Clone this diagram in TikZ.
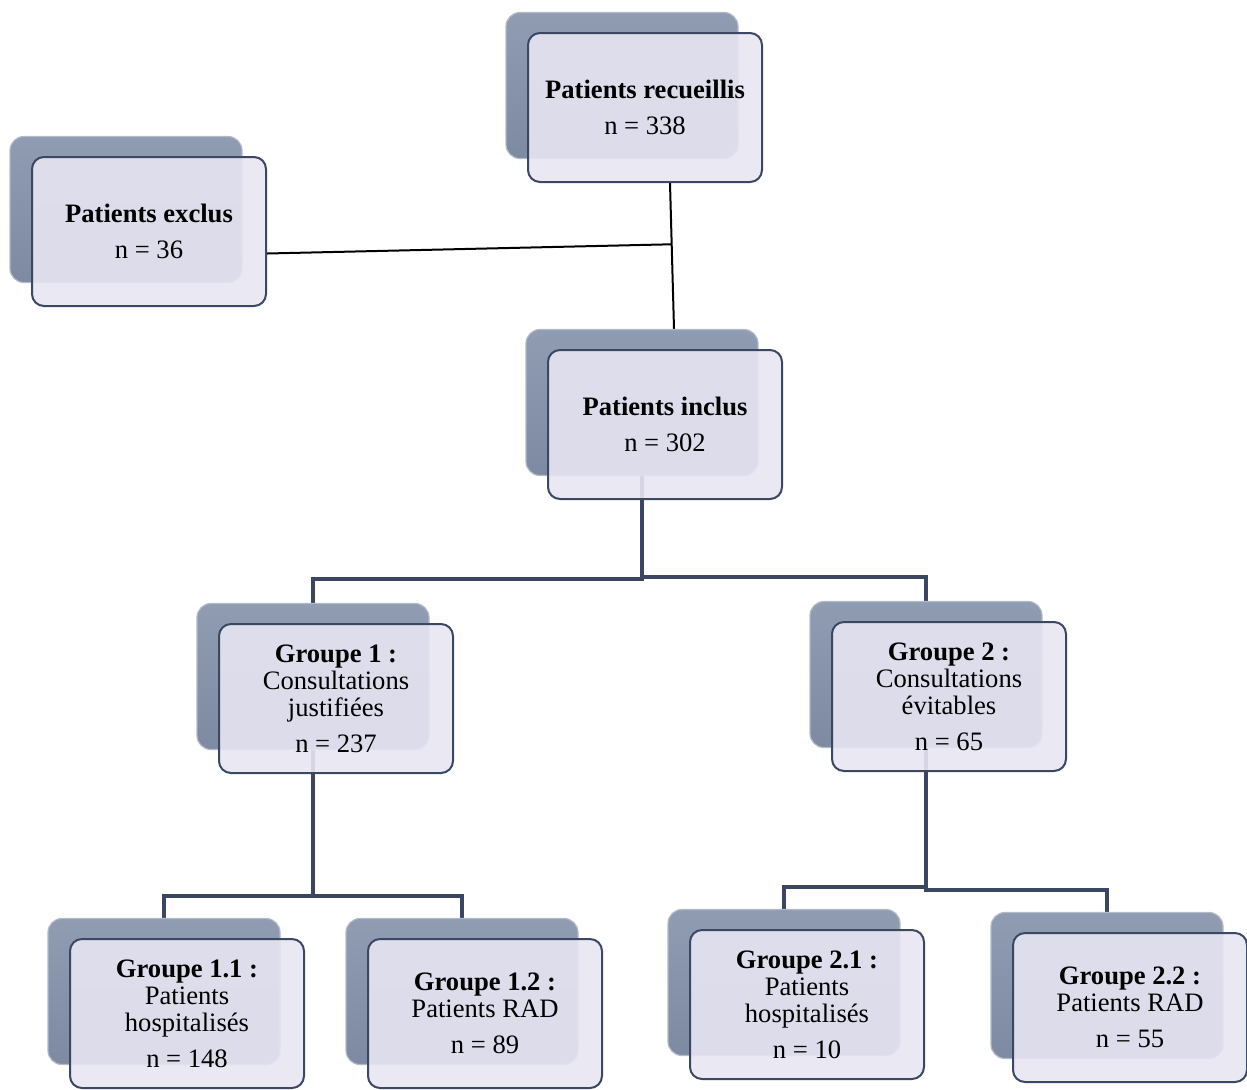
\documentclass[tikz,border=0pt]{standalone}
\usepackage{fontspec}
\setmainfont{Liberation Serif}
\usetikzlibrary{backgrounds}
\definecolor{backtop}{HTML}{909CB2}
\definecolor{backbot}{HTML}{7D8AA2}
\definecolor{frontfill}{HTML}{E7E5F2}
\definecolor{frontline}{HTML}{3A4863}
\definecolor{linkcol}{HTML}{3B4760}
\begin{document}
\begin{tikzpicture}[x=0.5pt, y=-0.5pt,
        backbox/.style={rounded corners=7pt, top color=backtop, bottom color=backbot,
          draw=backtop!70!white, line width=0.6pt, minimum width=116pt, minimum height=73pt, inner sep=0pt},
        frontbox/.style={rounded corners=6pt, fill=frontfill, fill opacity=0.9, text opacity=1,
          draw=frontline, line width=1pt, minimum width=117pt, minimum height=74.5pt,
          inner sep=2pt, align=center, font=\fontsize{13.3}{13.5}\selectfont},
        link/.style={draw=linkcol, line width=1.6pt},
        toplink/.style={draw=black, line width=1pt}
      ]
      \useasboundingbox (0, 0) rectangle (1247, 1089);
      % back boxes
      \node[backbox] at (622, 85.5) (recb) {};
      \node[backbox] at (126, 209.5) (exclb) {};
      \node[backbox] at (642, 402.5) (inclb) {};
      \node[backbox] at (313, 676.5) (g1b) {};
      \node[backbox] at (926, 674.5) (g2b) {};
      \node[backbox] at (164, 991.5) (g11b) {};
      \node[backbox] at (462, 991.5) (g12b) {};
      \node[backbox] at (784, 982.5) (g21b) {};
      \node[backbox] at (1107, 985.5) (g22b) {};

      % front boxes
      \node[frontbox] at (645, 107.5) (rec) {\textbf{Patients recueillis}\\[4.5pt] n = 338};
      \node[frontbox] at (149, 231.5) (excl) {\textbf{Patients exclus}\\[4.5pt] n = 36};
      \node[frontbox] at (665, 424.5) (incl) {\textbf{Patients inclus}\\[4.5pt] n = 302};
      \node[frontbox] at (336, 698.5) (g1) {\textbf{Groupe 1 :}\\ Consultations\\ justifiées\\[4.5pt] n = 237};
      \node[frontbox] at (949, 696.5) (g2) {\textbf{Groupe 2 :}\\ Consultations\\ évitables\\[4.5pt] n = 65};
      \node[frontbox] at (187, 1013.5) (g11) {\textbf{Groupe 1.1 :}\\ Patients\\ hospitalisés\\[4.5pt] n = 148};
      \node[frontbox] at (485, 1013.5) (g12) {\textbf{Groupe 1.2 :}\\ Patients RAD\\[4.5pt] n = 89};
      \node[frontbox] at (807, 1004.5) (g21) {\textbf{Groupe 2.1 :}\\ Patients\\ hospitalisés\\[4.5pt] n = 10};
      \node[frontbox] at (1130, 1007.5) (g22) {\textbf{Groupe 2.2 :}\\ Patients RAD\\[4.5pt] n = 55};

      % edges
      \begin{scope}[on background layer]
        \draw[toplink] ([xshift=12.5pt]rec.south) -- coordinate[pos=0.42] (jx) ([xshift=16pt]inclb.north);
        \draw[toplink] ([yshift=-11pt]excl.east) -- (jx);
        \draw[link] (inclb.center) |- ([yshift=12pt]g1b.north) -- (g1b.north);
        \draw[link] (inclb.center) |- ([yshift=12pt]g2b.north) -- (g2b.north);
        \draw[link] (g1b.center) |- ([yshift=11pt]g11b.north) -- (g11b.north);
        \draw[link] (g1b.center) |- ([yshift=11pt]g12b.north) -- (g12b.north);
        \draw[link] (g2b.center) |- ([yshift=11pt]g21b.north) -- (g21b.north);
        \draw[link] (g2b.center) |- ([yshift=11pt]g22b.north) -- (g22b.north);
      \end{scope}
  \end{tikzpicture}
\end{document}
